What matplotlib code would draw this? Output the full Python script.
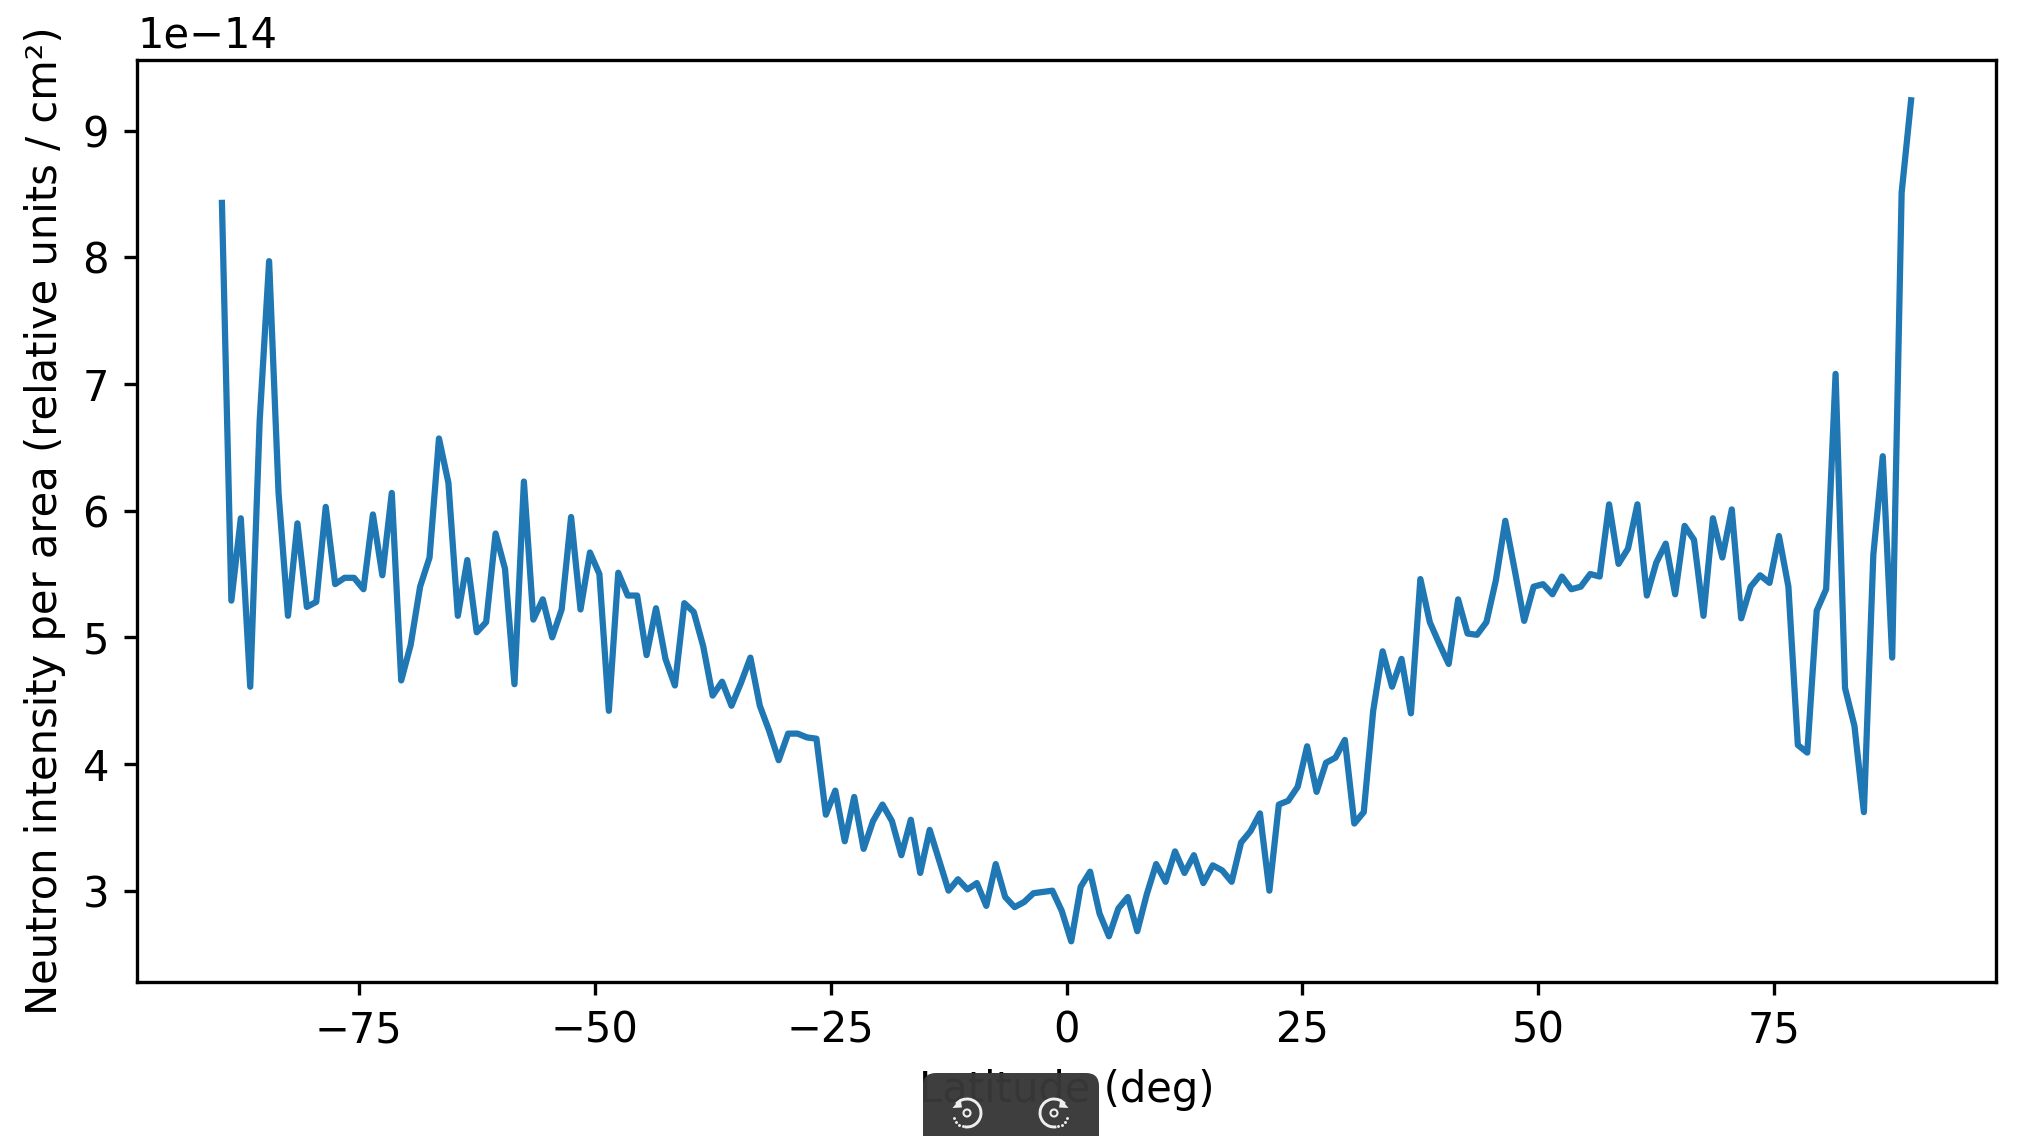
import numpy as np
import matplotlib
matplotlib.use('Agg')
import matplotlib.pyplot as plt
from matplotlib.patches import FancyBboxPatch, Arc, Circle, Polygon

# neutron intensity per 1 deg latitude bin, in units of 1e-14
lat = np.arange(-89.5, 90, 1.0)
intensity = [
    8.43, 5.29, 5.94, 4.61, 6.71, 7.97, 6.14, 5.17, 5.90, 5.24,
    5.28, 6.03, 5.42, 5.47, 5.47, 5.38, 5.97, 5.49, 6.14, 4.66,
    4.94, 5.40, 5.63, 6.57, 6.22, 5.17, 5.61, 5.04, 5.12, 5.82,
    5.54, 4.63, 6.23, 5.14, 5.30, 5.00, 5.22, 5.95, 5.22, 5.67,
    5.50, 4.42, 5.51, 5.33, 5.33, 4.86, 5.23, 4.83, 4.62, 5.27,
    5.20, 4.93, 4.54, 4.65, 4.46, 4.64, 4.84, 4.46, 4.26, 4.03,
    4.24, 4.24, 4.21, 4.20, 3.60, 3.79, 3.39, 3.74, 3.33, 3.55,
    3.68, 3.55, 3.28, 3.56, 3.14, 3.48, 3.24, 3.00, 3.09, 3.01,
    3.06, 2.88, 3.21, 2.95, 2.87, 2.91, 2.98, 2.99, 3.00, 2.84,
    2.60, 3.03, 3.15, 2.82, 2.64, 2.86, 2.95, 2.68, 2.97, 3.21,
    3.07, 3.31, 3.14, 3.28, 3.06, 3.20, 3.16, 3.07, 3.38, 3.47,
    3.61, 3.00, 3.68, 3.71, 3.82, 4.14, 3.78, 4.01, 4.05, 4.19,
    3.53, 3.62, 4.42, 4.89, 4.61, 4.83, 4.40, 5.46, 5.12, 4.95,
    4.79, 5.30, 5.03, 5.02, 5.12, 5.45, 5.92, 5.53, 5.13, 5.40,
    5.42, 5.34, 5.48, 5.38, 5.40, 5.50, 5.48, 6.05, 5.58, 5.70,
    6.05, 5.33, 5.59, 5.74, 5.34, 5.88, 5.77, 5.17, 5.94, 5.63,
    6.01, 5.15, 5.40, 5.49, 5.43, 5.80, 5.40, 4.15, 4.09, 5.21,
    5.38, 7.08, 4.60, 4.30, 3.62, 5.65, 6.43, 4.84, 8.51, 9.24,
]

W, H = 2026, 1136
DPI = 300

fig = plt.figure(figsize=(W / DPI, H / DPI), dpi=DPI)
ax = fig.add_axes([137 / W, 1 - 982 / H, 1859 / W, 922.5 / H])
ax.plot(lat, np.array(intensity) * 1e-14)
ax.set_xlim(-98.5, 98.5)
ax.set_ylim(2.279e-14, 9.562e-14)
ax.set_xlabel('Latitude (deg)')
ax.set_ylabel('Neutron intensity per area (relative units / cm²)')
ax.tick_params(length=3.2)

# video player controls sitting over the x label
ov = fig.add_axes([0, 0, 1, 1], zorder=5)
ov.set_xlim(0, W)
ov.set_ylim(0, H)
ov.axis('off')
ov.add_patch(FancyBboxPatch((923, -20), 176, 83, boxstyle='round,pad=0,rounding_size=13',
                            fc='#383838', ec='none', alpha=0.97))

cy = 23
for cx, side in [(967, 1), (1054, -1)]:
    t1, t2 = (-100, 140) if side == 1 else (40, 280)
    ov.add_patch(Arc((cx, cy), 28, 28, theta1=t1, theta2=t2, color='#eeeeee', lw=0.7))
    ov.add_patch(Circle((cx, cy), 3.5, fc='none', ec='#eeeeee', lw=0.5))
    head = [(-14.5, 5), (-6.5, 14.5), (-5, 5.5)]
    ov.add_patch(Polygon([(cx + side * dx, cy + dy) for dx, dy in head], fc='#eeeeee', ec='none'))
    angles = np.radians([200, 218, 236, 254] if side == 1 else [-20, -38, -56, -74])
    ov.plot(cx + 14 * np.cos(angles), cy + 14 * np.sin(angles), ls='none', marker='o', ms=0.7, color='#eeeeee', mew=0)

fig.savefig('out.png', dpi=DPI)
plt.close()
